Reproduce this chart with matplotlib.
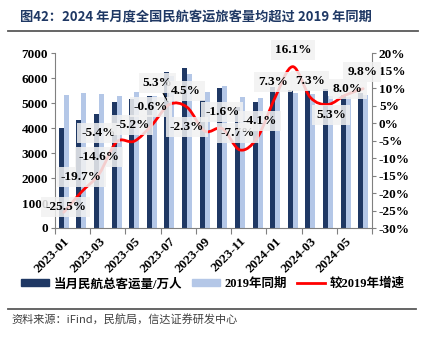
import numpy as np
import matplotlib
matplotlib.use('Agg')
import matplotlib.pyplot as plt
from matplotlib.path import Path
from matplotlib.patches import PathPatch, Patch
from matplotlib.lines import Line2D

months = ["2023-01", "2023-02", "2023-03", "2023-04", "2023-05", "2023-06",
          "2023-07", "2023-08", "2023-09", "2023-10", "2023-11", "2023-12",
          "2024-01", "2024-02", "2024-03", "2024-04", "2024-05", "2024-06"]
passengers = [4000, 4320, 4560, 5040, 5160, 5280, 6240, 6390, 5120,
              5590, 4830, 5060, 5650, 5520, 5520, 5550, 5320, 5400]
same_2019 = [5330, 5400, 5360, 5280, 5440, 5300, 6100, 6150, 5450,
             5690, 5230, 5190, 5450, 5390, 5360, 5280, 5250, 5320]
growth = [-25.5, -19.7, -14.6, -5.4, -5.2, -0.6, 5.3, 4.5, -2.3,
          -1.6, -7.7, -4.1, 7.3, 16.1, 7.3, 5.3, 8.0, 9.8]

# label offsets in pixels (dx, dy) relative to each line point
label_off = [(2, 5), (0, 15), (0, 17), (-18, 9), (-2, 16), (-1, 18),
             (-12, 21), (-1, 16), (-18, 4), (0, 17), (-2, 17), (2, 16),
             (-2, 15), (0, 17), (0, 16), (3, -11), (2, 6), (-1, 17)]

DARK = '#1f3864'
LIGHT = '#b4c7e7'
RED = '#ff0000'
GRAY = '#808080'
NUM = ['Liberation Serif', 'Noto Sans CJK SC']
CJK = ['Noto Sans CJK SC', 'DejaVu Sans']

fig = plt.figure(figsize=(4.26, 3.39), dpi=100)
ax = fig.add_axes([55/426, 1-228/339, (372-55)/426, (228-53)/339])
ax2 = ax.twinx()

x = np.arange(len(months))
w = 0.285
ax.bar(x - w/2, passengers, w, color=DARK, zorder=2)
ax.bar(x + w/2, same_2019, w, color=LIGHT, zorder=2)
ax.set_xlim(-0.5, len(months) - 0.5)
ax.set_ylim(0, 7000)
ax.set_yticks(range(0, 7001, 1000))
ax2.set_ylim(-30, 20)
ax2.set_yticks(range(-30, 21, 5))
ax2.set_yticklabels([f"{v}%" for v in range(-30, 21, 5)])

# smoothed line (Catmull-Rom style bezier like Excel)
pts = np.column_stack([x, growth]).astype(float)
P = np.vstack([pts[0], pts, pts[-1]])
verts = [tuple(pts[0])]
codes = [Path.MOVETO]
for i in range(1, len(P) - 2):
    p0, p1, p2, p3 = P[i-1], P[i], P[i+1], P[i+2]
    c1 = p1 + (p2 - p0) / 6
    c2 = p2 - (p3 - p1) / 6
    verts += [tuple(c1), tuple(c2), tuple(p2)]
    codes += [Path.CURVE4] * 3
ax2.add_patch(PathPatch(Path(verts, codes), facecolor='none', edgecolor=RED,
                        lw=2.0, zorder=3, capstyle='round'))

for i, (g, (dx, dy)) in enumerate(zip(growth, label_off)):
    kw = {}
    if i == 6:
        kw['arrowprops'] = dict(arrowstyle='-', color='black', lw=0.8,
                                shrinkA=0, shrinkB=3)
    ax2.annotate(f"{g:.1f}%", (i, g), xytext=(dx, dy), textcoords='offset pixels',
                 ha='center', va='center', fontsize=9.5, fontweight='bold',
                 family=NUM, color='black', zorder=5,
                 bbox=dict(boxstyle='square,pad=0.3', fc='#f2f2f2', ec='none', alpha=0.85),
                 **kw)

# axes styling
for a in (ax, ax2):
    for s in a.spines.values():
        s.set_color(GRAY)
    a.spines['top'].set_visible(False)
ax.spines['right'].set_visible(False)
ax2.spines['left'].set_visible(False)
ax2.spines['bottom'].set_visible(False)

ax.tick_params(axis='y', length=3, color=GRAY, pad=2)
ax2.tick_params(axis='y', length=3, color=GRAY, pad=2)
for lab in ax.get_yticklabels() + ax2.get_yticklabels():
    lab.set_fontfamily(NUM)
    lab.set_fontweight('bold')
    lab.set_fontsize(9.5)

ax.set_xticks(np.arange(-0.5, len(months), 2))
ax.set_xticklabels([])
ax.tick_params(axis='x', which='major', length=4, color=GRAY)
ax.set_xticks(x[::2], minor=True)
ax.set_xticklabels(months[::2], minor=True, rotation=45, ha='right',
                   rotation_mode='anchor', fontsize=9.5, fontweight='bold', family=NUM)
ax.tick_params(axis='x', which='minor', length=0, pad=5)

# title and rules
fig.text(20/426, 1-17/339, "图42：2024 年月度全国民航客运旅客量均超过 2019 年同期",
         fontsize=9.5, fontweight='bold', color='#1f3864', va='center', family=CJK)
fig.add_artist(Line2D([8/426, 418/426], [1-31/339, 1-31/339], color='#595959', lw=1.3))
fig.add_artist(Line2D([8/426, 416/426], [1-309/339, 1-309/339], color='#595959', lw=1.3))
fig.text(11/426, 1-319/339, "资料来源：iFind，民航局，信达证券研发中心",
         fontsize=8, color='#404040', va='center', family=CJK, style='italic')

handles = [Patch(color=DARK), Patch(color=LIGHT), Line2D([], [], color=RED, lw=2)]
fig.legend(handles, ["当月民航总客运量/万人", "2019年同期", "较2019年增速"],
           loc='center', bbox_to_anchor=(0.5, 1-284/339), ncol=3, frameon=False,
           prop=dict(family=NUM, weight='bold', size=9), handlelength=2.2,
           handleheight=0.5, columnspacing=0.8, handletextpad=0.4)

fig.savefig('out.png', dpi=100)
